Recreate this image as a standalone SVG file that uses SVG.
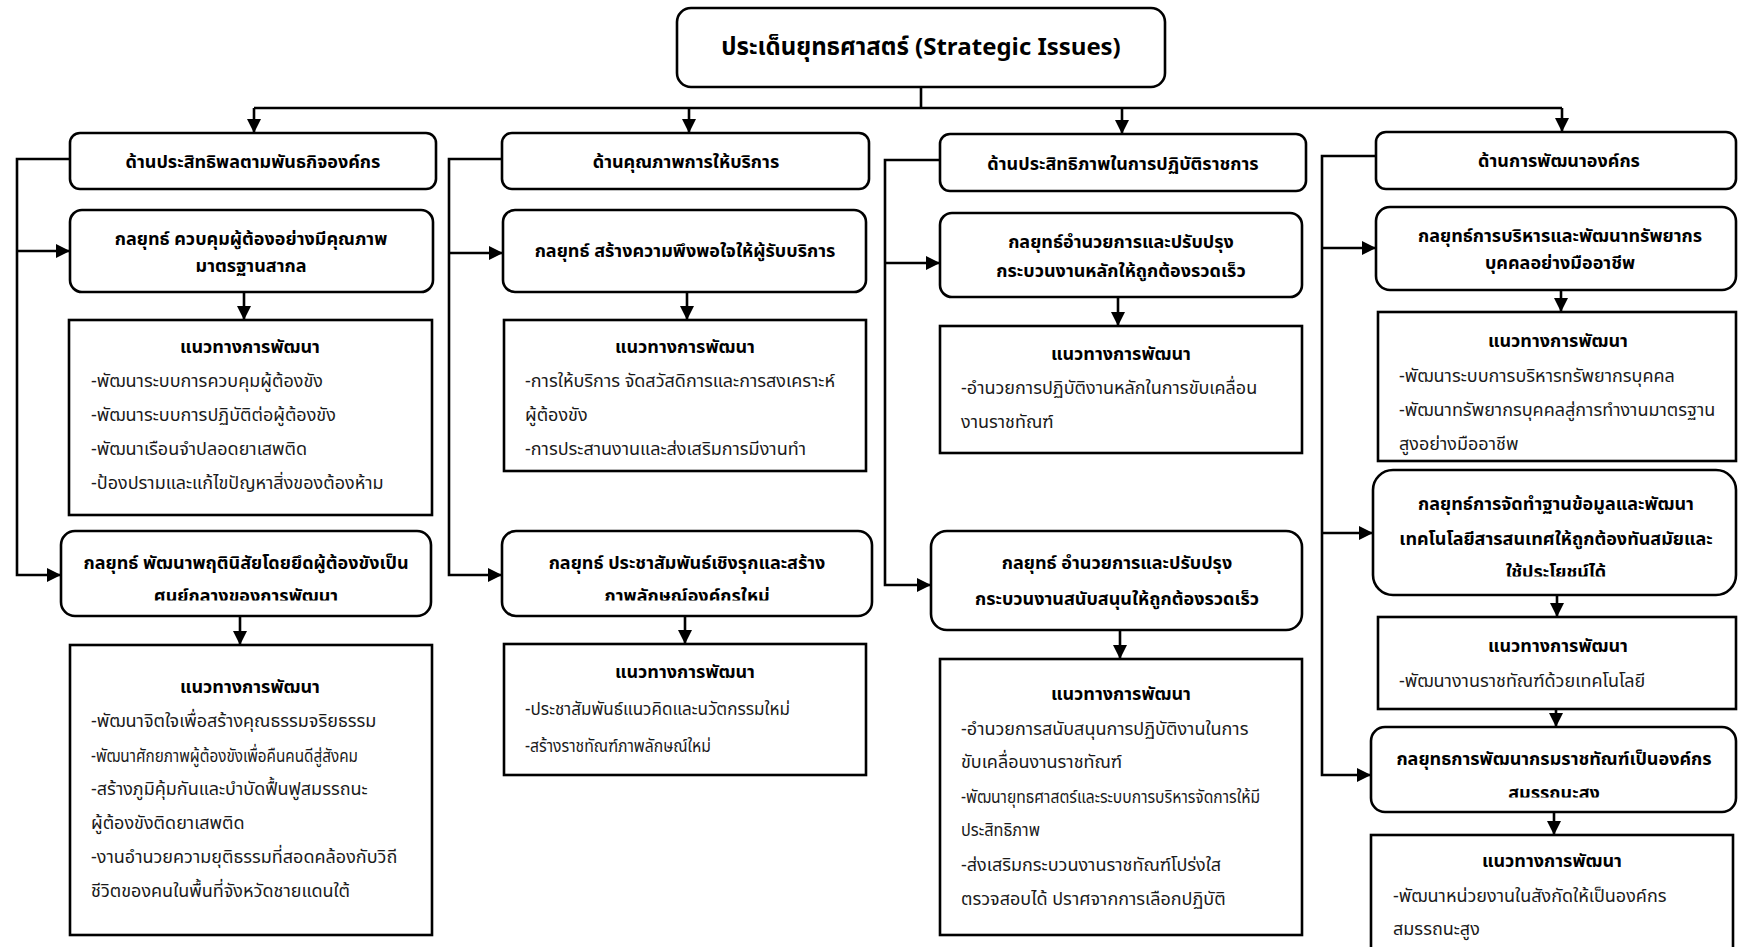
<svg xmlns="http://www.w3.org/2000/svg" width="1738" height="947" viewBox="0 0 1738 947">
  <style>
    .box { fill: #ffffff; stroke: #000000; stroke-width: 2.6; }
    .wire { fill: none; stroke: #000000; stroke-width: 2.6; }
    .t { font-family: "Noto Sans Thai", "Noto Sans", "DejaVu Sans", sans-serif; fill: #000000; }
    .title { font-size: 24px; font-weight: bold; text-anchor: middle; }
    .head { font-size: 18px; font-weight: bold; text-anchor: middle; }
    .strat { font-size: 18px; font-weight: bold; text-anchor: middle; }
    .gtitle { font-size: 18px; font-weight: bold; text-anchor: middle; }
    .item { font-size: 18px; fill: #1a1a1a; }
  </style>
  <defs>
    <marker id="arrow" markerUnits="userSpaceOnUse" viewBox="0 0 14 14" refX="14" refY="7" markerWidth="14" markerHeight="14" orient="auto">
      <path d="M0,0 L14,7 L0,14 z" fill="#000000"/>
    </marker>
    <!-- text frames that cut off the last line of some strategy boxes -->
    <clipPath id="clip-s1b"><rect x="61" y="531" width="370" height="69.5"/></clipPath>
    <clipPath id="clip-s2b"><rect x="502" y="531" width="370" height="69.5"/></clipPath>
    <clipPath id="clip-s4b"><rect x="1373" y="470" width="363" height="106.5"/></clipPath>
    <clipPath id="clip-s4c"><rect x="1371" y="727" width="365" height="70.5"/></clipPath>
  </defs>

  <!-- connectors -->
  <g id="connectors">
    <path class="wire" d="M921,87 V108"/>
    <path class="wire" d="M254,108 H1562"/>
    <path class="wire" marker-end="url(#arrow)" d="M254,108 V133"/>
    <path class="wire" marker-end="url(#arrow)" d="M689,108 V133"/>
    <path class="wire" marker-end="url(#arrow)" d="M1122,108 V134"/>
    <path class="wire" marker-end="url(#arrow)" d="M1562,108 V132"/>

    <!-- column 1 side rail -->
    <path class="wire" marker-end="url(#arrow)" d="M70,159 H17 V575 H61"/>
    <path class="wire" marker-end="url(#arrow)" d="M17,251 H70"/>
    <!-- column 2 side rail -->
    <path class="wire" marker-end="url(#arrow)" d="M502,159 H449 V575 H502"/>
    <path class="wire" marker-end="url(#arrow)" d="M449,253 H503"/>
    <!-- column 3 side rail -->
    <path class="wire" marker-end="url(#arrow)" d="M940,160 H885 V585 H931"/>
    <path class="wire" marker-end="url(#arrow)" d="M885,263 H940"/>
    <!-- column 4 side rail -->
    <path class="wire" marker-end="url(#arrow)" d="M1376,156 H1322 V775 H1371"/>
    <path class="wire" marker-end="url(#arrow)" d="M1322,248 H1376"/>
    <path class="wire" marker-end="url(#arrow)" d="M1322,533 H1373"/>

    <!-- strategy to guideline -->
    <path class="wire" marker-end="url(#arrow)" d="M244,292 V320"/>
    <path class="wire" marker-end="url(#arrow)" d="M240,616 V645"/>
    <path class="wire" marker-end="url(#arrow)" d="M687,292 V320"/>
    <path class="wire" marker-end="url(#arrow)" d="M685,616 V644"/>
    <path class="wire" marker-end="url(#arrow)" d="M1118,297 V326"/>
    <path class="wire" marker-end="url(#arrow)" d="M1120,630 V659"/>
    <path class="wire" marker-end="url(#arrow)" d="M1561,290 V312"/>
    <path class="wire" marker-end="url(#arrow)" d="M1557,595 V617"/>
    <path class="wire" marker-end="url(#arrow)" d="M1556,709 V727"/>
    <path class="wire" marker-end="url(#arrow)" d="M1554,812 V835"/>
  </g>

  <!-- root -->
  <g id="root">
    <rect class="box" x="677" y="8" width="488" height="79" rx="14"/>
    <text class="t title" x="921" y="55">ประเด็นยุทธศาสตร์ (Strategic Issues)</text>
  </g>

  <!-- column 1 -->
  <g id="h1">
    <rect class="box" x="70" y="133" width="366" height="56" rx="10"/>
    <text class="t head" x="253" y="168">ด้านประสิทธิพลตามพันธกิจองค์กร</text>
  </g>
  <g id="s1a">
    <rect class="box" x="70" y="210" width="363" height="82" rx="12"/>
    <text class="t strat" x="251" y="245">กลยุทธ์ ควบคุมผู้ต้องอย่างมีคุณภาพ</text>
    <text class="t strat" x="251" y="272">มาตรฐานสากล</text>
  </g>
  <g id="g1a">
    <rect class="box" x="69" y="320" width="363" height="195"/>
    <text class="t gtitle" x="250" y="353">แนวทางการพัฒนา</text>
    <text class="t item" x="91" y="387">-พัฒนาระบบการควบคุมผู้ต้องขัง</text>
    <text class="t item" x="91" y="421">-พัฒนาระบบการปฏิบัติต่อผู้ต้องขัง</text>
    <text class="t item" x="91" y="455">-พัฒนาเรือนจำปลอดยาเสพติด</text>
    <text class="t item" x="91" y="489">-ป้องปรามและแก้ไขปัญหาสิ่งของต้องห้าม</text>
  </g>
  <g id="s1b">
    <rect class="box" x="61" y="531" width="370" height="85" rx="14"/>
    <text class="t strat" x="246" y="569">กลยุทธ์ พัฒนาพฤตินิสัยโดยยึดผู้ต้องขังเป็น</text>
    <text class="t strat" x="246" y="602" clip-path="url(#clip-s1b)">ศูนย์กลางของการพัฒนา</text>
  </g>
  <g id="g1b">
    <rect class="box" x="70" y="645" width="362" height="290"/>
    <text class="t gtitle" x="250" y="693">แนวทางการพัฒนา</text>
    <text class="t item" x="91" y="727">-พัฒนาจิตใจเพื่อสร้างคุณธรรมจริยธรรม</text>
    <text class="t item" x="91" y="762" textLength="267" lengthAdjust="spacingAndGlyphs">-พัฒนาศักยภาพผู้ต้องขังเพื่อคืนคนดีสู่สังคม</text>
    <text class="t item" x="91" y="795">-สร้างภูมิคุ้มกันและบำบัดฟื้นฟูสมรรถนะ</text>
    <text class="t item" x="91" y="829">ผู้ต้องขังติดยาเสพติด</text>
    <text class="t item" x="91" y="863">-งานอำนวยความยุติธรรมที่สอดคล้องกับวิถี</text>
    <text class="t item" x="91" y="897">ชีวิตของคนในพื้นที่จังหวัดชายแดนใต้</text>
  </g>

  <!-- column 2 -->
  <g id="h2">
    <rect class="box" x="502" y="133" width="367" height="56" rx="10"/>
    <text class="t head" x="686" y="168">ด้านคุณภาพการให้บริการ</text>
  </g>
  <g id="s2a">
    <rect class="box" x="503" y="210" width="363" height="82" rx="12"/>
    <text class="t strat" x="685" y="257">กลยุทธ์ สร้างความพึงพอใจให้ผู้รับบริการ</text>
  </g>
  <g id="g2a">
    <rect class="box" x="504" y="320" width="362" height="151"/>
    <text class="t gtitle" x="685" y="353">แนวทางการพัฒนา</text>
    <text class="t item" x="525" y="387">-การให้บริการ จัดสวัสดิการและการสงเคราะห์</text>
    <text class="t item" x="525" y="421">ผู้ต้องขัง</text>
    <text class="t item" x="525" y="455">-การประสานงานและส่งเสริมการมีงานทำ</text>
  </g>
  <g id="s2b">
    <rect class="box" x="502" y="531" width="370" height="85" rx="14"/>
    <text class="t strat" x="687" y="569">กลยุทธ์ ประชาสัมพันธ์เชิงรุกและสร้าง</text>
    <text class="t strat" x="687" y="602" clip-path="url(#clip-s2b)">ภาพลักษณ์องค์กรใหม่</text>
  </g>
  <g id="g2b">
    <rect class="box" x="504" y="644" width="362" height="131"/>
    <text class="t gtitle" x="685" y="678">แนวทางการพัฒนา</text>
    <text class="t item" x="525" y="715" textLength="265" lengthAdjust="spacingAndGlyphs">-ประชาสัมพันธ์แนวคิดและนวัตกรรมใหม่</text>
    <text class="t item" x="525" y="752" textLength="186" lengthAdjust="spacingAndGlyphs">-สร้างราชทัณฑ์ภาพลักษณ์ใหม่</text>
  </g>

  <!-- column 3 -->
  <g id="h3">
    <rect class="box" x="940" y="134" width="366" height="57" rx="10"/>
    <text class="t head" x="1123" y="170">ด้านประสิทธิภาพในการปฏิบัติราชการ</text>
  </g>
  <g id="s3a">
    <rect class="box" x="940" y="213" width="362" height="84" rx="12"/>
    <text class="t strat" x="1121" y="248">กลยุทธ์อำนวยการและปรับปรุง</text>
    <text class="t strat" x="1121" y="277">กระบวนงานหลักให้ถูกต้องรวดเร็ว</text>
  </g>
  <g id="g3a">
    <rect class="box" x="940" y="326" width="362" height="127"/>
    <text class="t gtitle" x="1121" y="360">แนวทางการพัฒนา</text>
    <text class="t item" x="961" y="394">-อำนวยการปฏิบัติงานหลักในการขับเคลื่อน</text>
    <text class="t item" x="961" y="428">งานราชทัณฑ์</text>
  </g>
  <g id="s3b">
    <rect class="box" x="931" y="531" width="371" height="99" rx="16"/>
    <text class="t strat" x="1117" y="569">กลยุทธ์ อำนวยการและปรับปรุง</text>
    <text class="t strat" x="1117" y="605">กระบวนงานสนับสนุนให้ถูกต้องรวดเร็ว</text>
  </g>
  <g id="g3b">
    <rect class="box" x="940" y="659" width="362" height="276"/>
    <text class="t gtitle" x="1121" y="700">แนวทางการพัฒนา</text>
    <text class="t item" x="961" y="735">-อำนวยการสนับสนุนการปฏิบัติงานในการ</text>
    <text class="t item" x="961" y="768">ขับเคลื่อนงานราชทัณฑ์</text>
    <text class="t item" x="961" y="803" textLength="299" lengthAdjust="spacingAndGlyphs">-พัฒนายุทธศาสตร์และระบบการบริหารจัดการให้มี</text>
    <text class="t item" x="961" y="836" textLength="79" lengthAdjust="spacingAndGlyphs">ประสิทธิภาพ</text>
    <text class="t item" x="961" y="871">-ส่งเสริมกระบวนงานราชทัณฑ์โปร่งใส</text>
    <text class="t item" x="961" y="905">ตรวจสอบได้ ปราศจากการเลือกปฏิบัติ</text>
  </g>

  <!-- column 4 -->
  <g id="h4">
    <rect class="box" x="1376" y="132" width="360" height="57" rx="10"/>
    <text class="t head" x="1559" y="167">ด้านการพัฒนาองค์กร</text>
  </g>
  <g id="s4a">
    <rect class="box" x="1376" y="207" width="360" height="83" rx="14"/>
    <text class="t strat" x="1560" y="242">กลยุทธ์การบริหารและพัฒนาทรัพยากร</text>
    <text class="t strat" x="1560" y="269">บุคคลอย่างมืออาชีพ</text>
  </g>
  <g id="g4a">
    <rect class="box" x="1378" y="312" width="358" height="149"/>
    <text class="t gtitle" x="1558" y="347">แนวทางการพัฒนา</text>
    <text class="t item" x="1399" y="382">-พัฒนาระบบการบริหารทรัพยากรบุคคล</text>
    <text class="t item" x="1399" y="416">-พัฒนาทรัพยากรบุคคลสู่การทำงานมาตรฐาน</text>
    <text class="t item" x="1399" y="450">สูงอย่างมืออาชีพ</text>
  </g>
  <g id="s4b">
    <rect class="box" x="1373" y="470" width="363" height="125" rx="20"/>
    <text class="t strat" x="1556" y="510">กลยุทธ์การจัดทำฐานข้อมูลและพัฒนา</text>
    <text class="t strat" x="1556" y="545">เทคโนโลยีสารสนเทศให้ถูกต้องทันสมัยและ</text>
    <text class="t strat" x="1556" y="578" clip-path="url(#clip-s4b)">ใช้ประโยชน์ได้</text>
  </g>
  <g id="g4b">
    <rect class="box" x="1378" y="617" width="358" height="92"/>
    <text class="t gtitle" x="1558" y="652">แนวทางการพัฒนา</text>
    <text class="t item" x="1399" y="687">-พัฒนางานราชทัณฑ์ด้วยเทคโนโลยี</text>
  </g>
  <g id="s4c">
    <rect class="box" x="1371" y="727" width="365" height="85" rx="14"/>
    <text class="t strat" x="1554" y="765">กลยุทธการพัฒนากรมราชทัณฑ์เป็นองค์กร</text>
    <text class="t strat" x="1554" y="799" clip-path="url(#clip-s4c)">สมรรถนะสูง</text>
  </g>
  <g id="g4c">
    <rect class="box" x="1371" y="835" width="362" height="130"/>
    <text class="t gtitle" x="1552" y="867">แนวทางการพัฒนา</text>
    <text class="t item" x="1393" y="902">-พัฒนาหน่วยงานในสังกัดให้เป็นองค์กร</text>
    <text class="t item" x="1393" y="935">สมรรถนะสูง</text>
  </g>
</svg>
